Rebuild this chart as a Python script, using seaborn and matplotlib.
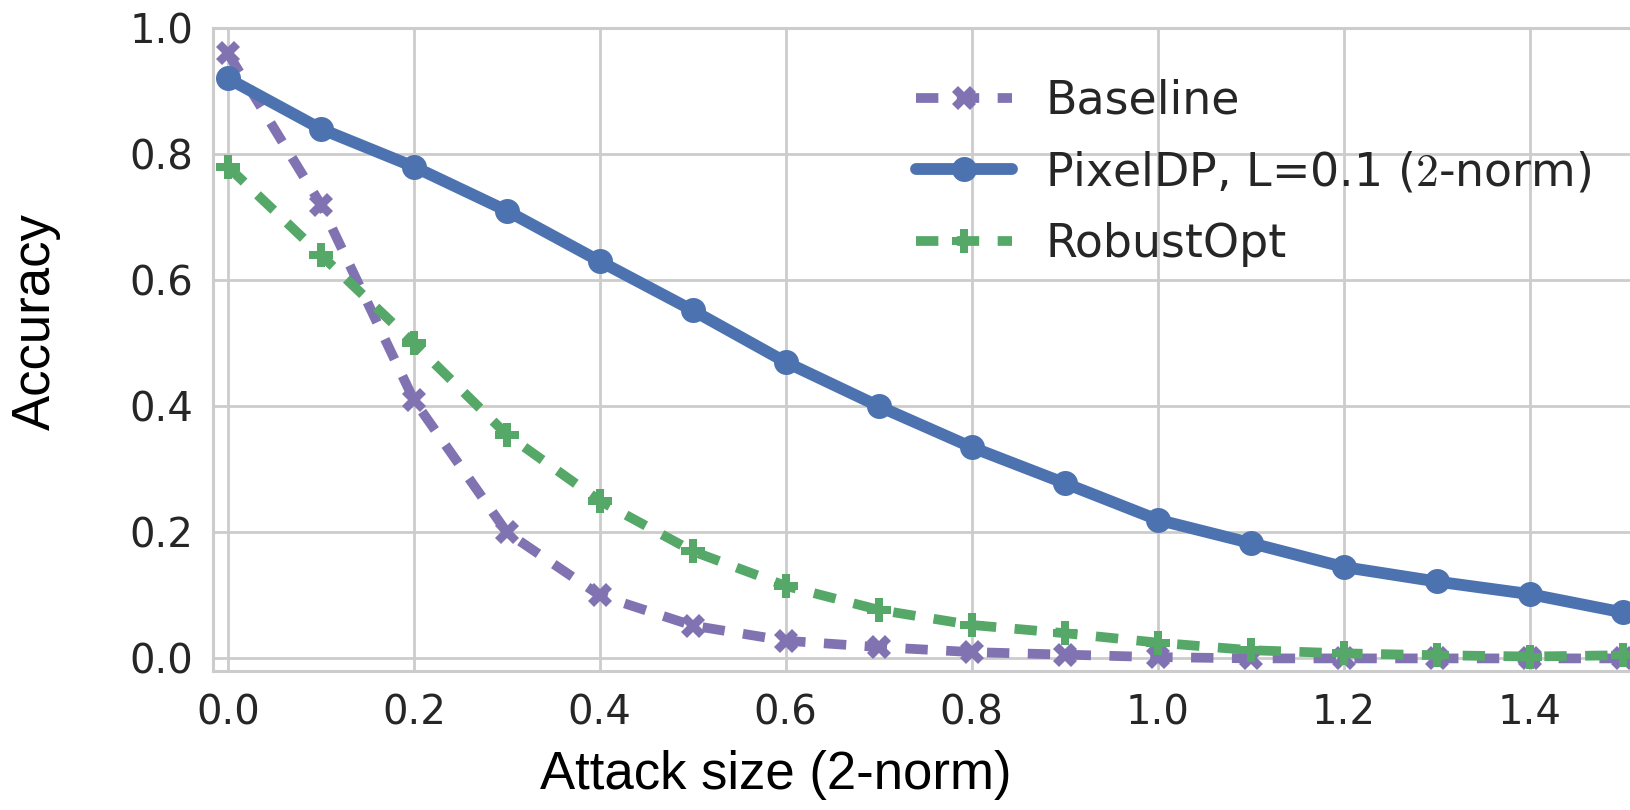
import numpy as np
import pandas as pd
import seaborn as sns
import matplotlib.pyplot as plt

# dane
attack_size = [0.0, 0.1, 0.2, 0.3, 0.4, 0.5, 0.6, 0.7, 0.8, 0.9, 1.0, 1.1, 1.2, 1.3, 1.4, 1.5]
baseline = [0.96, 0.72, 0.41, 0.20, 0.10, 0.052, 0.028, 0.018, 0.010, 0.006, 0.002, 0.0, 0.0, 0.0, 0.0, 0.0]
pixeldp = [0.92, 0.84, 0.78, 0.71, 0.63, 0.552, 0.47, 0.40, 0.335, 0.278, 0.22, 0.183, 0.145, 0.122, 0.102, 0.073]
robustopt = [0.78, 0.64, 0.50, 0.355, 0.25, 0.17, 0.115, 0.077, 0.053, 0.04, 0.025, 0.013, 0.008, 0.005, 0.003, 0.005]

labels = ["Baseline", "PixelDP, L=0.1 ($2$-norm)", "RobustOpt"]
x_ticks = [0.0, 0.2, 0.4, 0.6, 0.8, 1.0, 1.2, 1.4]
y_ticks = [0.0, 0.2, 0.4, 0.6, 0.8, 1.0]

sns.set_theme(style="whitegrid")
plt.rcParams['font.family'] = ['DejaVu Sans']
plt.rcParams['mathtext.fontset'] = 'cm'

fig = plt.figure(figsize=(16.31, 8.10), dpi=100)
ax = fig.add_axes([213 / 1631, 1 - 671 / 810, 1456 / 1631, (671 - 28) / 810])

purple = "#8172B2"
blue = "#4C72B0"
green = "#55A868"
dash = (2.3, 1.9)

sns.lineplot(x=attack_size, y=baseline, ax=ax, color=purple, lw=7, marker="X",
             markersize=17, markeredgecolor=purple, markeredgewidth=0, zorder=2)
ax.lines[-1].set_dashes(dash)
sns.lineplot(x=attack_size, y=robustopt, ax=ax, color=green, lw=7, marker="P",
             markersize=17, markeredgecolor=green, markeredgewidth=0, zorder=3)
ax.lines[-1].set_dashes(dash)
sns.lineplot(x=attack_size, y=pixeldp, ax=ax, color=blue, lw=8.5, marker="o",
             markersize=18, markeredgecolor=blue, markeredgewidth=0, zorder=4)

ax.set_xlim(-0.016, 1.55)
ax.set_ylim(-0.02, 1.0)
ax.set_xticks(x_ticks)
ax.set_yticks(y_ticks)
ax.set_xticklabels([f"{v:.1f}" for v in x_ticks])
ax.set_yticklabels([f"{v:.1f}" for v in y_ticks])
ax.tick_params(axis='both', labelsize=29, colors="#262626", length=0)
ax.tick_params(axis='x', pad=16)
ax.tick_params(axis='y', pad=14)
ax.grid(color="#cccccc", lw=2)
for s in ax.spines.values():
    s.set_color("#cccccc")
    s.set_linewidth(2.2)
ax.set_xlabel("")
ax.set_ylabel("")

handles = [ax.lines[0], ax.lines[2], ax.lines[1]]
fig.legend(handles, labels, loc="upper left", bbox_to_anchor=(916 / 1631, 0.903),
           frameon=False, fontsize=33, handlelength=2.1, handletextpad=0.72,
           labelspacing=0.58, borderpad=0, borderaxespad=0)

fig.text(776 / 1631, 1 - 775 / 810, "Attack size (2-norm)", ha="center", va="center",
         fontsize=38, family="Liberation Sans", color="black")
fig.text(36 / 1631, 1 - 322 / 810, "Accuracy", ha="center", va="center", rotation=90,
         fontsize=38, family="Liberation Sans", color="black")

fig.savefig("out.png", dpi=100)
